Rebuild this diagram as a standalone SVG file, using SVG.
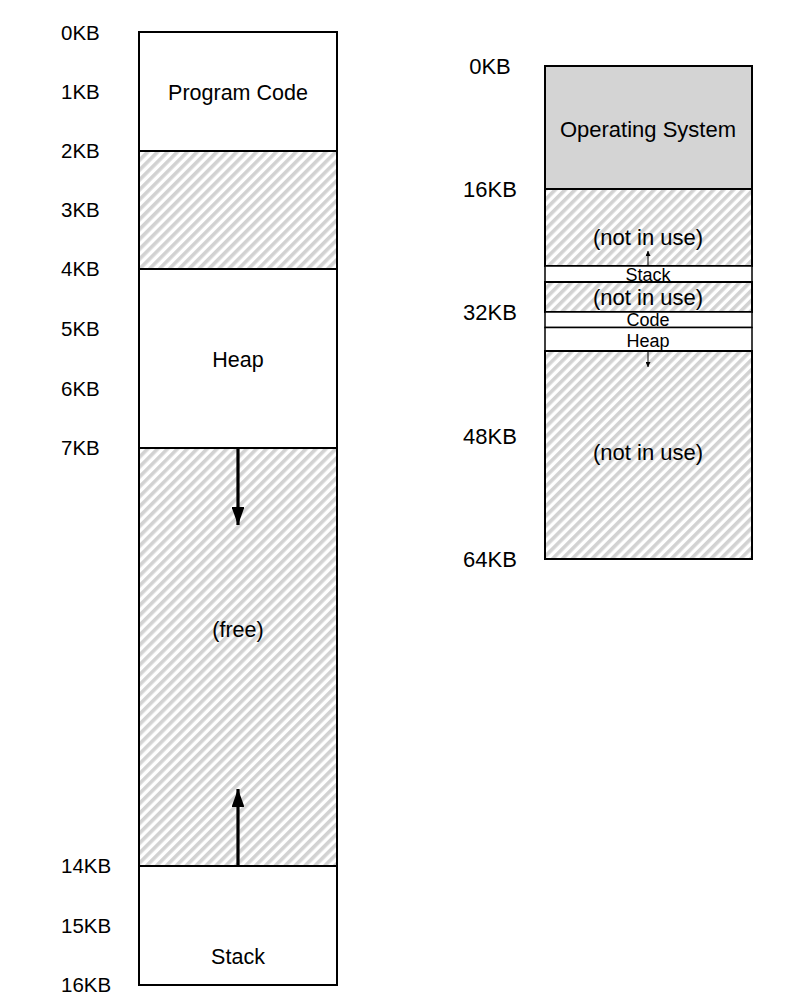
<svg xmlns="http://www.w3.org/2000/svg" width="810" height="998" viewBox="0 0 810 998">
<defs>
<pattern id="hatch" width="7" height="7" patternUnits="userSpaceOnUse" patternTransform="rotate(45)">
<rect width="7" height="7" fill="#fff"/>
<rect width="3.6" height="7" fill="#d2d2d2"/>
</pattern>
<marker id="ah" viewBox="0 0 14 10" refX="14" refY="5" markerWidth="5.6" markerHeight="4" orient="auto" markerUnits="strokeWidth">
<path d="M0,0 L14,5 L0,10 z" fill="#000"/>
</marker>
<marker id="ahs" viewBox="0 0 10 10" refX="10" refY="5" markerWidth="6" markerHeight="5" orient="auto" markerUnits="strokeWidth">
<path d="M0,0 L10,5 L0,10 z" fill="#000"/>
</marker>
</defs>
<style>
.box{stroke:#000;stroke-width:2}
.w{fill:#fff}
.h{fill:url(#hatch)}
.g{fill:#d4d4d4}
text{font-family:"Liberation Sans",Arial,sans-serif;fill:#000}
.lab{font-size:20.5px}
.rlab{font-size:22px;text-anchor:middle}
.in{font-size:21.5px;text-anchor:middle}
.rin{font-size:22px;text-anchor:middle}
.sm{font-size:18px;text-anchor:middle}
</style>
<rect width="810" height="998" fill="#fff"/>

<g id="left-labels">
<text class="lab" x="61" y="40">0KB</text>
<text class="lab" x="61" y="99">1KB</text>
<text class="lab" x="61" y="158">2KB</text>
<text class="lab" x="61" y="217">3KB</text>
<text class="lab" x="61" y="276">4KB</text>
<text class="lab" x="61" y="336">5KB</text>
<text class="lab" x="61" y="396">6KB</text>
<text class="lab" x="61" y="455">7KB</text>
<text class="lab" x="61" y="873">14KB</text>
<text class="lab" x="61" y="933">15KB</text>
<text class="lab" x="61" y="992">16KB</text>
</g>

<g id="program-code">
<rect class="box w" x="139" y="32" width="198" height="119"/>
<text class="in" x="238" y="99.5">Program Code</text>
</g>
<g id="unused-left">
<rect class="box h" x="139" y="151" width="198" height="118"/>
</g>
<g id="heap-left">
<rect class="box w" x="139" y="269" width="198" height="179"/>
<text class="in" x="238" y="366.5">Heap</text>
</g>
<g id="free">
<rect class="box h" x="139" y="448" width="198" height="418"/>
<text class="in" x="238" y="636.5">(free)</text>
</g>
<g id="stack-left">
<rect class="box w" x="139" y="866" width="198" height="119"/>
<text class="in" x="238" y="963.5">Stack</text>
</g>

<g id="right-labels">
<text class="rlab" x="490" y="74">0KB</text>
<text class="rlab" x="490" y="197">16KB</text>
<text class="rlab" x="490" y="320">32KB</text>
<text class="rlab" x="490" y="444">48KB</text>
<text class="rlab" x="490" y="567">64KB</text>
</g>

<g id="os">
<rect class="box g" x="545" y="66" width="207" height="123"/>
<text class="rin" x="648" y="137">Operating System</text>
</g>
<g id="unused-1">
<rect class="box h" x="545" y="189" width="207" height="77"/>
<text class="rin" x="648" y="245">(not in use)</text>
</g>
<g id="stack-right">
<rect class="box w" x="545" y="266" width="207" height="16" style="stroke-width:1.5"/>
<text class="sm" x="648" y="280.5">Stack</text>
</g>
<g id="unused-2">
<rect class="box h" x="545" y="282" width="207" height="30"/>
<text class="rin" x="648" y="305">(not in use)</text>
</g>
<g id="code-right">
<rect class="box w" x="545" y="312" width="207" height="15.5" style="stroke-width:1.5"/>
<text class="sm" x="648" y="326">Code</text>
</g>
<g id="heap-right">
<rect class="box w" x="545" y="327.5" width="207" height="23.5" style="stroke-width:1.5"/>
<text class="sm" x="648" y="346.5">Heap</text>
</g>
<g id="unused-3">
<rect class="box h" x="545" y="351" width="207" height="208"/>
<text class="rin" x="648" y="460">(not in use)</text>
</g>

<g id="connectors" stroke="#000" fill="none">
<line x1="238" y1="449" x2="238" y2="525" stroke-width="3.2" marker-end="url(#ah)"/>
<line x1="238" y1="865" x2="238" y2="789" stroke-width="3.2" marker-end="url(#ah)"/>
<line x1="648" y1="265" x2="648" y2="251" stroke-width="1" marker-end="url(#ahs)"/>
<line x1="648" y1="352" x2="648" y2="367" stroke-width="1" marker-end="url(#ahs)"/>
</g>
</svg>
